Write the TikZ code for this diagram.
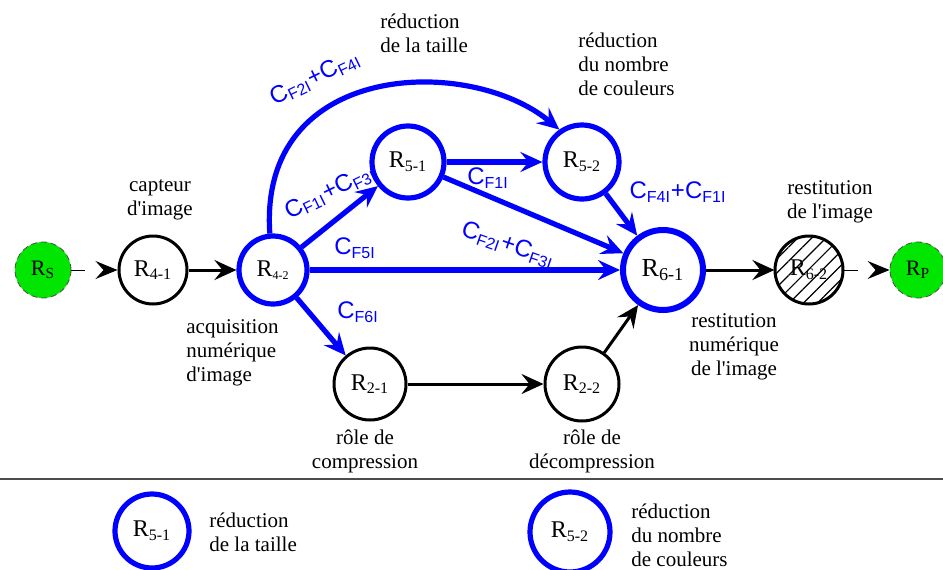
\documentclass[tikz,border=0pt]{standalone}
\usepackage{fontspec}
\setmainfont{Liberation Serif}
\newfontfamily\labfont{Liberation Sans}
\usetikzlibrary{arrows.meta,patterns.meta}
\definecolor{rgreen}{RGB}{0,230,0}
\newcommand{\apos}{\textquotesingle}
\tikzset{
  res/.style={circle,draw=black,line width=1.5pt,inner sep=0pt,font=\fontsize{12}{14}\selectfont},
  resblue/.style={res,draw=blue,line width=2.6pt},
  extres/.style={circle,fill=rgreen,draw=black!70,densely dashed,line width=0.4pt,inner sep=0pt,minimum size=28pt,font=\fontsize{11}{13}\selectfont},
  txt/.style={align=center,inner sep=0pt,font=\fontsize{10.5}{12}\selectfont},
  txtl/.style={txt,align=left},
  lab/.style={text=blue,inner sep=0pt,font=\labfont\fontsize{12}{14}\selectfont},
  flow/.style={-{Stealth[length=11pt,width=10pt,inset=4pt]},line width=1.5pt},
  flowblue/.style={flow,draw=blue,line width=2.6pt},
}
\begin{document}
\begin{tikzpicture}[x=0.5pt,y=-0.5pt]
% 943px x 569px, y downwards
\useasboundingbox (0,0) rectangle (943,569);
\node[extres] (rs) at (43,270) {R\textsubscript{S}};
\node[res,minimum size=34pt] (r41) at (153,270) {R\textsubscript{4-1}};
\node[resblue,minimum size=34pt] (r42) at (273,270) {R\textsubscript{\fontsize{6}{6}\selectfont 4-2}};
\node[resblue,minimum size=36pt] (r51) at (408,162) {R\textsubscript{5-1}};
\node[resblue,minimum size=37pt] (r52) at (582,162) {R\textsubscript{5-2}};
\node[resblue,minimum size=40pt,line width=3pt,font=\fontsize{13}{15}\selectfont] (r61) at (663,270) {R\textsubscript{6-1}};
\node[res,minimum size=34pt,pattern={Lines[angle=45,distance=5pt,line width=0.6pt]}] (r62) at (809,270) {R\textsubscript{6-2}};
\node[extres] (rp) at (918,270) {R\textsubscript{P}};
\node[res,minimum size=36pt] (r21) at (370,384) {R\textsubscript{2-1}};
\node[res,minimum size=37pt] (r22) at (582,384) {R\textsubscript{2-2}};
% roles
\node[txt] (t41) at (160,200) {capteur\\d\apos image};
\node[txtl,anchor=west] (t42) at (186,353) {acquisition\\numérique\\d\apos image};
\node[txtl,anchor=west] (t51) at (380,33) {réduction\\de la taille};
\node[txtl,anchor=west] (t52) at (578,64) {réduction\\du nombre\\de couleurs};
\node[txt] (t62) at (830,202) {restitution\\de l\apos image};
\node[txt] (t61) at (734,347) {restitution\\numérique\\de l\apos image};
\node[txt] (t21) at (365,451) {rôle de\\compression};
\node[txt] (t22) at (592,451) {rôle de\\décompression};
% connectors
\draw[line width=0.5pt,dash pattern=on 7pt off 20pt,-{Stealth[length=11pt,width=9pt,inset=4pt]}] (rs) -- (r41);
\draw[flow] (r41) -- (r42);
\draw[flowblue] (r42) -- (r51);
\draw[flowblue] (r42) -- (r61);
\draw[flowblue] (r42) -- (r21);
\draw[flowblue] (r42.95) .. controls (258,60) and (470,55) .. (r52.125);
\draw[flowblue] (r51) -- (r52);
\draw[flowblue] (r51) -- (r61);
\draw[flowblue] (r52) -- (r61);
\draw[flow] (r21) -- (r22);
\draw[flow] (r22) -- (r61);
\draw[flow] (r61) -- (r62);
\draw[line width=0.5pt,dash pattern=on 7pt off 20pt,-{Stealth[length=11pt,width=9pt,inset=4pt]}] (r62) -- (rp);
% costs
\node[lab,rotate=26] (c1) at (315,78) {C\textsubscript{F2I}+C\textsubscript{F4I}};
\node[lab,rotate=26] (c2) at (330,192) {C\textsubscript{F1I}+C\textsubscript{F3I}};
\node[lab] (c3) at (488,178) {C\textsubscript{F1I}};
\node[lab] (c4) at (355,248) {C\textsubscript{F5I}};
\node[lab,rotate=-19] (c5) at (508,245) {C\textsubscript{F2I}+C\textsubscript{F3I}};
\node[lab] (c6) at (678,192) {C\textsubscript{F4I}+C\textsubscript{F1I}};
\node[lab] (c7) at (358,312) {C\textsubscript{F6I}};
% legend
\draw[black!70,line width=1pt] (0,479) -- (943,479);
\node[resblue,minimum size=37pt] (k51) at (152,531) {R\textsubscript{5-1}};
\node[txtl,anchor=west] (kt51) at (209,532) {réduction\\de la taille};
\node[resblue,minimum size=40pt] (k52) at (570,532) {R\textsubscript{5-2}};
\node[txtl,anchor=west] (kt52) at (631,535) {réduction\\du nombre\\de couleurs};
\end{tikzpicture}
\end{document}
